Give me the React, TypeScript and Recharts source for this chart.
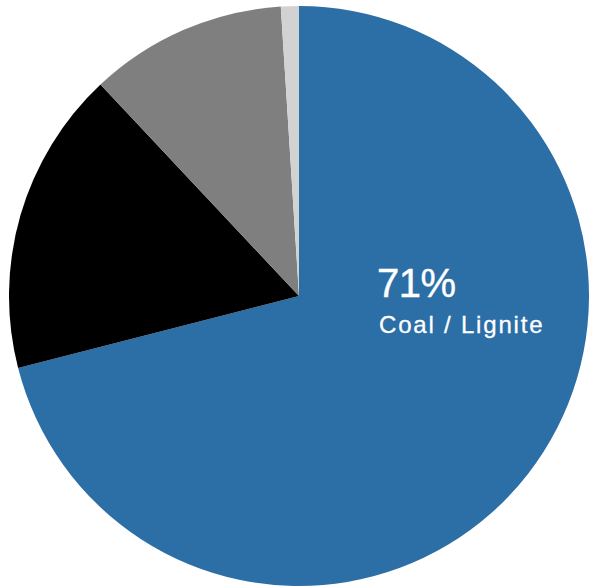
import React from "react";
import { PieChart, Pie, Cell } from "recharts";

const categories = ["Coal / Lignite", "Other 1", "Other 2", "Other 3"];
const shares = [71, 17, 11, 1];
const colors = ["#2c6ea6", "#000000", "#7f7f7f", "#d2d2d2"];

const data = categories.map((name, i) => ({ name, value: shares[i] }));

const FONT = "'Liberation Sans', Arial, Helvetica, sans-serif";

// Only the main slice carries a label, placed right of centre
function renderLabel(props: any) {
  const { index, cx, cy, value, name } = props;
  if (index !== 0) return null;
  return (
    <g>
      <text
        x={cx + 78}
        y={cy + 1}
        fill="#ffffff"
        stroke="#ffffff"
        strokeWidth={0.4}
        fontFamily={FONT}
        fontSize={40}
        letterSpacing={-0.5}
      >
        {value}%
      </text>
      <text
        x={cx + 80}
        y={cy + 37}
        fill="#ffffff"
        stroke="#ffffff"
        strokeWidth={0.3}
        fontFamily={FONT}
        fontSize={24}
        letterSpacing={1.8}
      >
        {name}
      </text>
    </g>
  );
}

export default function App() {
  return (
    <div style={{ position: "absolute", left: 0, top: 0, width: 589, height: 588, background: "#fff" }}>
      <PieChart width={589} height={588} margin={{ top: 0, right: 0, bottom: 0, left: 0 }}>
        <Pie
          data={data}
          dataKey="value"
          nameKey="name"
          cx={299}
          cy={296}
          outerRadius={290}
          startAngle={90}
          endAngle={-270}
          stroke="none"
          labelLine={false}
          label={renderLabel}
          isAnimationActive={false}
        >
          {data.map((entry, index) => (
            <Cell key={`cell-${index}`} fill={colors[index]} />
          ))}
        </Pie>
      </PieChart>
    </div>
  );
}
